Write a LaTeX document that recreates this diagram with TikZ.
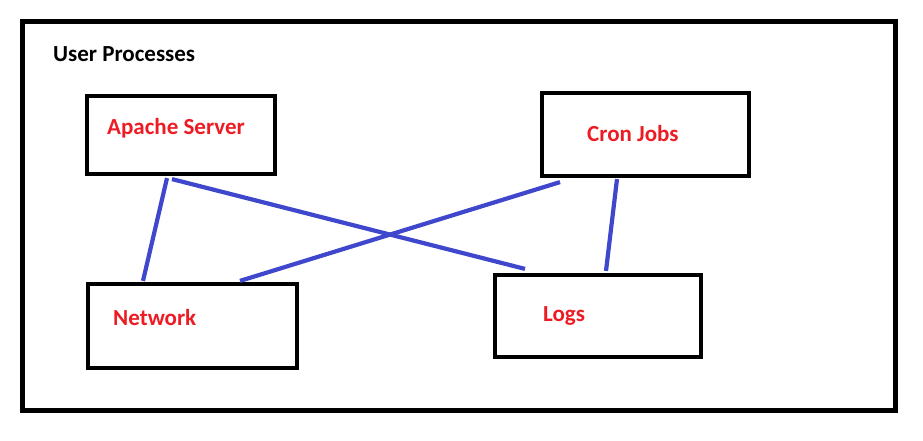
\documentclass[tikz,border=0pt]{standalone}
\usepackage{fontspec}
\setmainfont{Carlito}
\usetikzlibrary{%
  calc,
}

\definecolor{linkblue}{RGB}{63,72,204}
\definecolor{namered}{RGB}{237,28,36}

\begin{document}
\begin{tikzpicture}[%
           x=1pt, y=-1pt,
           process/.style={
             % The shape:
             rectangle,
             % The border:
             line width=4.2pt,
             draw=black,
             inner sep=0pt,
           },
           proclabel/.style={
             % The text:
             anchor=base west,
             inner sep=0pt,
             font=\fontsize{23}{27}\selectfont\bfseries,
             text=namered,
           },
           link/.style={
             line width=4.2pt,
             color=linkblue,
           }]

         \useasboundingbox (0,0) rectangle (923,441);

         % the frame round all of it
         \node[process, line width=5pt, minimum width=873pt, minimum height=389pt]
           (frame) at (459,216) {};
         \node[proclabel, text=black] (title) at (53,62) {User Processes};

         \node[process, minimum width=188pt, minimum height=78pt] (apache) at (181,135) {};
         \node[process, minimum width=207pt, minimum height=83pt] (cron) at (645.5,134.5) {};
         \node[process, minimum width=209pt, minimum height=84pt] (network) at (192.5,326) {};
         \node[process, minimum width=206pt, minimum height=82pt] (logs) at (598,316) {};

         \node[proclabel] (apachename) at (107,135) {Apache Server};
         \node[proclabel] (cronname) at (587,141) {Cron Jobs};
         \node[proclabel] (networkname) at (113,325) {Network};
         \node[proclabel] (logsname) at (543,321) {Logs};

         \draw[link] ($ (apache.south) + (-14,2) $) -- ($ (network.north) + (-49.5,-1) $);
         \draw[link] ($ (apache.south) + (-9,3) $) -- ($ (logs.north) + (-73,-4) $);
         \draw[link] ($ (cron.south) + (-85.5,4) $) -- ($ (network.north) + (47.5,-1) $);
         \draw[link] ($ (cron.south) + (-28.5,1) $) -- ($ (logs.north) + (8,-2) $);

     \end{tikzpicture}
\end{document}
